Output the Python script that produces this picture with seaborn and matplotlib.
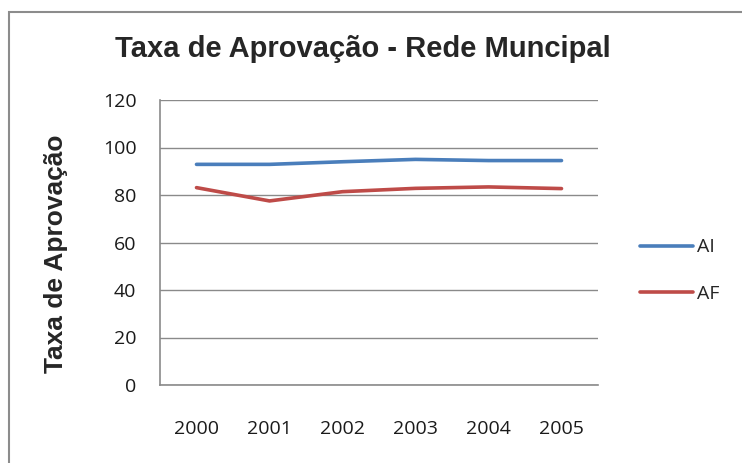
import pandas as pd
import matplotlib.pyplot as plt
import seaborn as sns
from matplotlib.patches import Rectangle

# dados
anos = ["2000", "2001", "2002", "2003", "2004", "2005"]
ai = [92.9, 92.9, 94.0, 95.0, 94.5, 94.5]
af = [83.1, 77.5, 81.4, 82.8, 83.4, 82.7]

df = pd.DataFrame({"Ano": anos * 2,
                   "Taxa": ai + af,
                   "Serie": ["AI"] * 6 + ["AF"] * 6})

sns.set_theme(style="white")
plt.rcParams["font.family"] = ["Open Sans", "DejaVu Sans"]

fig = plt.figure(figsize=(7.42, 4.63), dpi=100)
ax = fig.add_axes([160 / 742, 1 - 385 / 463, 438 / 742, 285 / 463])

sns.lineplot(data=df, x="Ano", y="Taxa", hue="Serie", sort=False,
             palette={"AI": "#4A7EBB", "AF": "#BE4B48"}, linewidth=2.6, ax=ax)

ax.set_xlim(-0.5, 5.5)
ax.set_ylim(0, 120)
ax.set_yticks(range(0, 121, 20))
ax.yaxis.grid(True, color="#8a8a8a", linewidth=1)
ax.set_axisbelow(True)
for s in ["top", "right"]:
    ax.spines[s].set_visible(False)
for s in ["left", "bottom"]:
    ax.spines[s].set_color("#8a8a8a")
    ax.spines[s].set_linewidth(1.2)
ax.tick_params(axis="y", length=0, pad=17, labelsize=14, labelcolor="#1a1a1a")
ax.tick_params(axis="x", length=0, pad=25, labelsize=14, labelcolor="#1a1a1a")
ax.set_xlabel("")
ax.set_ylabel("Taxa de Aprovação", fontsize=19, fontweight="bold",
              family=["Liberation Sans", "DejaVu Sans"])
ax.yaxis.set_label_coords(-0.21, 0.46)

fig.text(363 / 742, 1 - 49 / 463, "Taxa de Aprovação - Rede Muncipal",
         ha="center", va="center", fontsize=21,
         family=["Liberation Sans Narrow", "Liberation Sans"], fontweight="bold")

h, l = ax.get_legend_handles_labels()
ax.legend(h, l, loc="center left", bbox_to_anchor=(640 / 742, 1 - 270.5 / 463),
          bbox_transform=fig.transFigure, frameon=False, borderpad=0,
          borderaxespad=0, handlelength=2.7, handletextpad=0.25,
          labelspacing=1.45, fontsize=14)

# moldura externa (estilo Excel)
fig.patches.append(Rectangle((9 / 742, -0.1), 2, 1 - 12 / 463 + 0.1, fill=False,
                             edgecolor="#8c8c8c", linewidth=1.5,
                             transform=fig.transFigure))

plt.savefig("out.png", dpi=100)
